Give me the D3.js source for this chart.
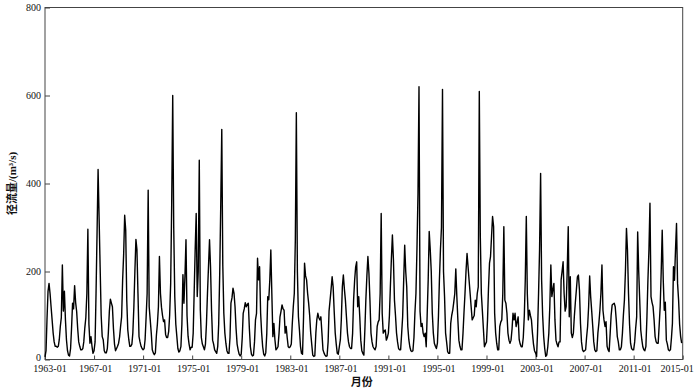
<!DOCTYPE html>
<html>
<head>
<meta charset="utf-8">
<script src="https://cdn.jsdelivr.net/npm/d3@7"></script>
<style>
  body { margin: 0; background: #fff; }
  text { font-family: "Liberation Serif", "Noto Sans CJK SC", serif; }
</style>
</head>
<body>
<svg id="chart"></svg>
<script>
// first month of the series
const startYear = 1963;

// monthly runoff (m3/s), Jan..Dec per row
const runoff = [
  6, 20, 90, 155, 173, 150, 120, 90, 60, 40, 30, 30,          // 1963
  28, 30, 45, 75, 95, 215, 110, 155, 90, 45, 20, 10,          // 1964
  8, 25, 70, 128, 115, 168, 130, 109, 70, 40, 30, 22,         // 1965
  22, 25, 40, 72, 95, 150, 296, 80, 37, 52, 30, 14,           // 1966
  20, 40, 150, 290, 432, 320, 210, 100, 52, 45, 20, 15,       // 1967
  15, 25, 60, 110, 137, 128, 120, 70, 35, 20, 25, 30,         // 1968
  37, 52, 75, 97, 180, 240, 328, 294, 135, 68, 45, 30,        // 1969
  30, 35, 60, 120, 200, 273, 250, 150, 52, 40, 30, 25,        // 1970
  22, 25, 45, 97, 150, 385, 120, 90, 60, 22, 15, 11,          // 1971
  15, 55, 80, 120, 234, 150, 119, 100, 86, 90, 57, 50,        // 1972
  50, 64, 100, 173, 350, 600, 300, 143, 80, 53, 25, 17,       // 1973
  20, 30, 80, 193, 128, 190, 272, 100, 53, 35, 22, 28,        // 1974
  28, 60, 150, 250, 332, 143, 200, 453, 113, 50, 35, 29,      // 1975
  22, 35, 80, 150, 210, 272, 211, 110, 44, 35, 22, 18,        // 1976
  14, 30, 80, 196, 350, 523, 216, 105, 60, 37, 20, 14,        // 1977
  14, 50, 128, 140, 162, 150, 120, 70, 35, 22, 12, 8,         // 1978
  12, 50, 105, 115, 129, 120, 125, 128, 70, 29, 12, 8,        // 1979
  10, 40, 90, 105, 230, 181, 211, 105, 60, 29, 12, 8,         // 1980
  15, 60, 143, 136, 180, 249, 150, 52, 82, 45, 22, 25,        // 1981
  29, 60, 97, 110, 124, 115, 112, 60, 75, 50, 29, 27,         // 1982
  29, 35, 80, 120, 150, 272, 561, 200, 97, 67, 30, 14,        // 1983
  12, 97, 219, 190, 181, 150, 128, 100, 60, 35, 10, 7,        // 1984
  8, 60, 90, 105, 95, 90, 97, 60, 22, 15, 10, 7,              // 1985
  8, 40, 110, 135, 160, 188, 165, 110, 60, 35, 14, 12,        // 1986
  29, 45, 90, 165, 192, 160, 135, 97, 60, 40, 29, 25,         // 1987
  25, 60, 135, 180, 210, 222, 120, 143, 97, 44, 20, 14,       // 1988
  10, 70, 135, 190, 234, 196, 135, 60, 40, 29, 25, 22,        // 1989
  30, 75, 85, 90, 150, 332, 105, 60, 65, 67, 44, 50,          // 1990
  60, 100, 165, 230, 283, 226, 135, 100, 60, 40, 25, 22,      // 1991
  22, 60, 97, 180, 260, 200, 165, 75, 45, 29, 20, 18,         // 1992
  20, 50, 105, 150, 250, 378, 620, 110, 75, 82, 60, 52,       // 1993
  60, 29, 100, 181, 291, 250, 200, 105, 60, 37, 30, 25,       // 1994
  37, 100, 181, 250, 300, 614, 200, 143, 60, 40, 18, 14,      // 1995
  14, 82, 100, 112, 130, 150, 206, 143, 90, 44, 30, 22,       // 1996
  22, 60, 105, 150, 200, 241, 211, 180, 150, 120, 90, 95,     // 1997
  100, 135, 120, 150, 165, 609, 280, 150, 110, 70, 29, 35,    // 1998
  40, 90, 160, 219, 234, 280, 325, 302, 105, 60, 37, 22,      // 1999
  22, 75, 85, 90, 150, 302, 135, 128, 105, 60, 44, 37,        // 2000
  44, 70, 105, 90, 105, 75, 85, 97, 45, 35, 29, 29,           // 2001
  50, 100, 180, 325, 150, 90, 112, 100, 90, 60, 35, 20,       // 2002
  15, 7, 60, 150, 250, 423, 181, 100, 52, 25, 7, 10,          // 2003
  29, 60, 120, 215, 143, 160, 173, 90, 44, 35, 29, 40,        // 2004
  40, 181, 200, 222, 150, 110, 120, 200, 302, 97, 188, 60,    // 2005
  50, 60, 97, 130, 158, 188, 192, 158, 82, 40, 22, 18,        // 2006
  20, 22, 50, 75, 120, 190, 143, 110, 75, 40, 22, 18,         // 2007
  20, 60, 82, 112, 150, 215, 112, 90, 75, 86, 30, 22,         // 2008
  18, 60, 100, 124, 126, 128, 120, 90, 52, 40, 22, 22,        // 2009
  29, 60, 100, 135, 200, 298, 249, 150, 80, 37, 25, 22,       // 2010
  22, 40, 70, 97, 290, 200, 135, 67, 45, 29, 22, 20,          // 2011
  30, 97, 180, 250, 355, 143, 130, 120, 90, 52, 40, 37,       // 2012
  37, 80, 120, 200, 294, 180, 112, 130, 44, 35, 22, 20,       // 2013
  22, 50, 82, 211, 180, 250, 309, 173, 135, 80, 52, 37        // 2014
];

const xTickLabels = ["1963-01", "1967-01", "1971-01", "1975-01", "1979-01", "1983-01", "1987-01",
  "1991-01", "1995-01", "1999-01", "2003-01", "2007-01", "2011-01", "2015-01"];
const yTicks = [0, 200, 400, 600, 800];

const width = 700;
const height = 389;
const margin = { top: 7.5, bottom: 29.5, left: 45, right: 17.3 };

const svg = d3.select('#chart')
  .attr('width', width)
  .attr('height', height);

const parseMonth = d3.timeParse('%Y-%m');
const fmtMonth = d3.timeFormat('%Y-%m');

const data = runoff.map((v, i) => ({ date: new Date(startYear, i, 1), value: v }));

// Scales setup
const xscale = d3.scaleTime()
  .domain([parseMonth(xTickLabels[0]), parseMonth(xTickLabels[xTickLabels.length - 1])])
  .range([margin.left, width - margin.right]);
const yscale = d3.scaleLinear()
  .domain([0, 800])
  .range([height - margin.bottom, margin.top]);

// Axis setup (ticks point into the plot)
const xaxis = d3.axisBottom(xscale)
  .tickValues(xTickLabels.map(parseMonth))
  .tickFormat(fmtMonth)
  .tickSizeInner(-4)
  .tickSizeOuter(0)
  .tickPadding(5.3);
const yaxis = d3.axisLeft(yscale)
  .tickValues(yTicks)
  .tickSizeInner(-5)
  .tickSizeOuter(0)
  .tickPadding(4);

const g_xaxis = svg.append('g')
  .attr('transform', `translate(0,${height - margin.bottom})`)
  .call(xaxis);
const g_yaxis = svg.append('g')
  .attr('transform', `translate(${margin.left},0)`)
  .call(yaxis);

[g_xaxis, g_yaxis].forEach((g) => {
  g.select('.domain').remove();
  g.selectAll('line').attr('stroke', '#444');
  g.selectAll('text')
    .attr('fill', '#111')
    .style('font-size', '10px')
    .style('font-family', '"Liberation Serif", serif');
});

// first and last date labels are pulled inwards, like in the source figure
g_xaxis.selectAll('.tick text')
  .attr('dx', (d, i) => i === 0 ? 4.5 : (i === xTickLabels.length - 1 ? -6 : 1));
// lift the "0" label a little so it clears the first date label
g_yaxis.selectAll('.tick text')
  .filter((d) => d === 0)
  .attr('dy', '0.12em');

// frame
svg.append('rect')
  .attr('x', margin.left)
  .attr('y', margin.top)
  .attr('width', width - margin.left - margin.right)
  .attr('height', height - margin.top - margin.bottom)
  .attr('fill', 'none')
  .attr('stroke', '#444')
  .attr('stroke-width', 1);

// series
const line = d3.line()
  .x((d) => xscale(d.date))
  .y((d) => yscale(d.value));

svg.append('path')
  .datum(data)
  .attr('d', line)
  .attr('fill', 'none')
  .attr('stroke', '#000')
  .attr('stroke-width', 1.4)
  .attr('stroke-linejoin', 'round');

// axis titles
svg.append('text')
  .attr('transform', `translate(16,${(margin.top + height - margin.bottom) / 2}) rotate(-90)`)
  .attr('text-anchor', 'middle')
  .style('font-size', '11px')
  .style('font-weight', 'bold')
  .attr('fill', '#111')
  .text('径流量/(m³/s)');

svg.append('text')
  .attr('x', (margin.left + width - margin.right) / 2 - 2)
  .attr('y', 386)
  .attr('text-anchor', 'middle')
  .style('font-size', '11px')
  .style('font-weight', 'bold')
  .attr('fill', '#111')
  .text('月份');
</script>
</body>
</html>
